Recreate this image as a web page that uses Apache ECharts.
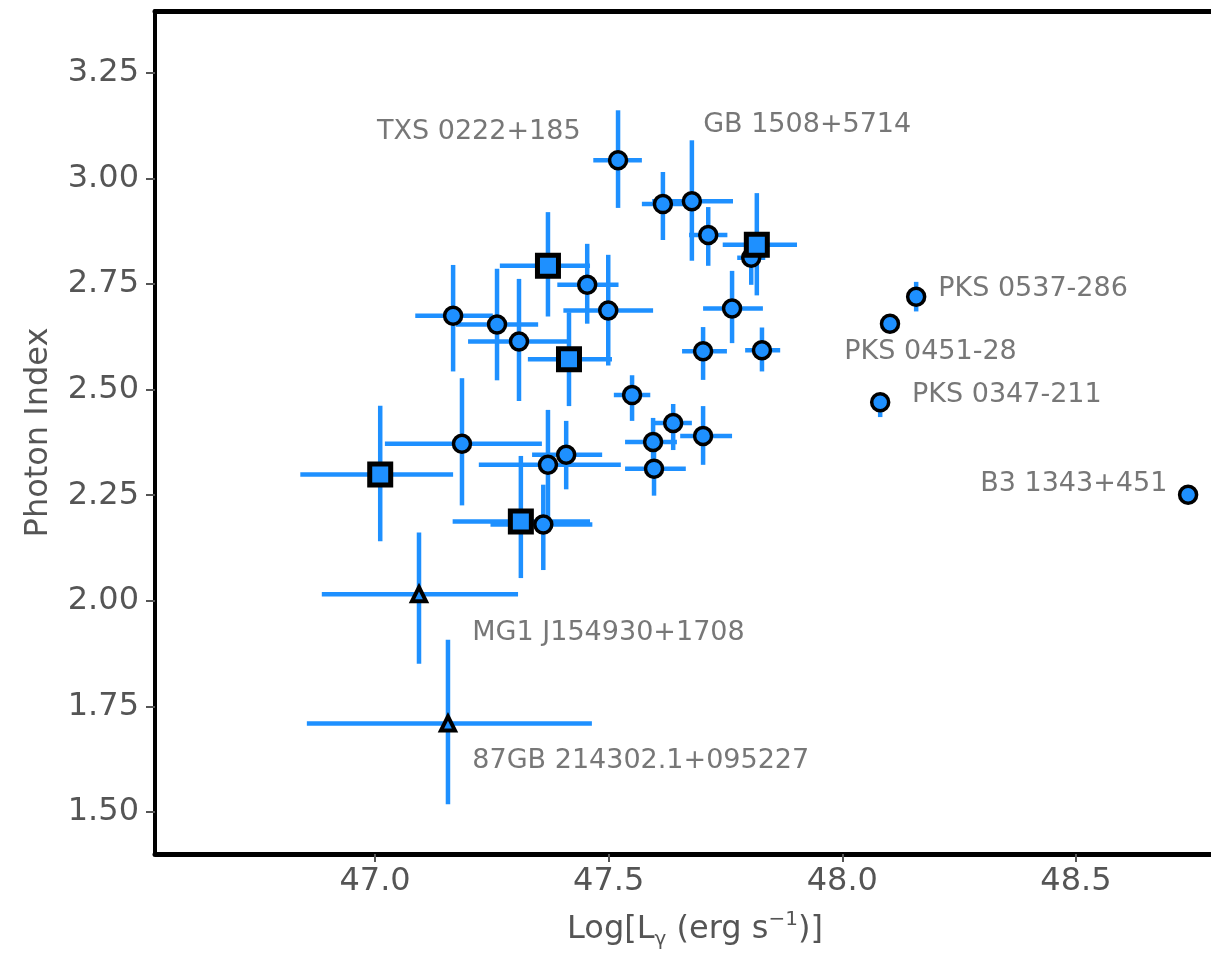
<!DOCTYPE html>
<html><head><meta charset="utf-8">
<script src="https://cdn.jsdelivr.net/npm/echarts@6/dist/echarts.min.js"></script>
<style>html,body{margin:0;padding:0;background:#fff}#c{width:1211px;height:955px}</style>
</head><body><div id="c"></div>
<script>
// Tick labels
const xTicks = [47.0, 47.5, 48.0, 48.5];
const yTicks = [1.50, 1.75, 2.00, 2.25, 2.50, 2.75, 3.00, 3.25];

// Rows: [log L_gamma, photon index, xErrMinus, xErrPlus, yErrMinus, yErrPlus]
const circles = [
  [47.520, 3.043, 0.053, 0.051, 0.113, 0.118],
  [47.616, 2.939, 0.045, 0.045, 0.085, 0.076],
  [47.678, 2.946, 0.085, 0.088, 0.141, 0.144],
  [47.713, 2.866, 0.041, 0.041, 0.073, 0.066],
  [47.805, 2.812, 0.030, 0.030, 0.064, 0.060],
  [47.764, 2.692, 0.062, 0.066, 0.082, 0.089],
  [47.702, 2.591, 0.045, 0.051, 0.068, 0.057],
  [47.828, 2.593, 0.036, 0.039, 0.050, 0.054],
  [47.454, 2.748, 0.064, 0.067, 0.092, 0.097],
  [47.499, 2.687, 0.096, 0.096, 0.130, 0.132],
  [47.167, 2.675, 0.081, 0.085, 0.132, 0.120],
  [47.261, 2.654, 0.088, 0.088, 0.132, 0.132],
  [47.308, 2.614, 0.109, 0.109, 0.141, 0.148],
  [47.550, 2.487, 0.039, 0.039, 0.061, 0.047],
  [47.638, 2.421, 0.040, 0.040, 0.064, 0.045],
  [47.702, 2.390, 0.049, 0.062, 0.068, 0.071],
  [47.595, 2.376, 0.060, 0.051, 0.050, 0.057],
  [47.597, 2.313, 0.062, 0.068, 0.064, 0.045],
  [47.186, 2.372, 0.165, 0.171, 0.146, 0.155],
  [47.370, 2.322, 0.148, 0.156, 0.125, 0.130],
  [47.409, 2.346, 0.073, 0.077, 0.082, 0.080],
  [47.360, 2.181, 0.113, 0.105, 0.108, 0.094],
  [48.158, 2.720, 0.000, 0.000, 0.035, 0.035],
  [48.102, 2.656, 0.000, 0.000, 0.000, 0.000],
  [48.081, 2.470, 0.000, 0.000, 0.035, 0.020],
  [48.740, 2.251, 0.000, 0.000, 0.000, 0.000]
];
const squares = [
  [47.817, 2.843, 0.073, 0.086, 0.120, 0.122],
  [47.370, 2.793, 0.103, 0.090, 0.120, 0.127],
  [47.415, 2.572, 0.088, 0.092, 0.111, 0.111],
  [47.011, 2.299, 0.171, 0.156, 0.158, 0.163],
  [47.312, 2.188, 0.146, 0.148, 0.134, 0.155]
];
const triangles = [
  [47.094, 2.016, 0.208, 0.212, 0.165, 0.146],
  [47.156, 1.710, 0.302, 0.308, 0.191, 0.198]
];

// Source annotations (text, left edge x, middle y in data units)
const labelNames = ['TXS 0222+185', 'GB 1508+5714', 'PKS 0537-286', 'PKS 0451-28',
  'PKS 0347-211', 'B3 1343+451', 'MG1 J154930+1708', '87GB 214302.1+095227'];
const labelX = [47.004, 47.702, 48.205, 48.004, 48.149, 48.295, 47.208, 47.208];
const labelY = [3.110, 3.127, 2.737, 2.590, 2.488, 2.277, 1.925, 1.621];

const BLUE = '#1E90FF';
const FONT = 'DejaVu Sans';
const TXT = '#555';

function errRender(params, api) {
  const x = api.value(0), y = api.value(1);
  const style = { stroke: BLUE, lineWidth: 4.5 };
  const ch = [];
  if (api.value(2) + api.value(3) > 0) {
    const a = api.coord([x - api.value(2), y]), b = api.coord([x + api.value(3), y]);
    ch.push({ type: 'line', shape: { x1: a[0], y1: a[1], x2: b[0], y2: b[1] }, style });
  }
  if (api.value(4) + api.value(5) > 0) {
    const a = api.coord([x, y - api.value(4)]), b = api.coord([x, y + api.value(5)]);
    ch.push({ type: 'line', shape: { x1: a[0], y1: a[1], x2: b[0], y2: b[1] }, style });
  }
  return { type: 'group', children: ch };
}
function errSeries(rows) {
  return { type: 'custom', renderItem: errRender, data: rows, encode: { x: 0, y: 1 }, silent: true, clip: false };
}
function markSeries(rows, symbol, size, bw) {
  return {
    type: 'scatter', symbol: symbol, symbolSize: size, silent: true,
    data: rows.map(r => [r[0], r[1]]),
    itemStyle: { color: BLUE, borderColor: '#000', borderWidth: bw, opacity: 1 }
  };
}

const chart = echarts.init(document.getElementById('c'), null, { renderer: 'canvas' });
chart.setOption({
  animation: false,
  backgroundColor: '#fff',
  grid: { left: 155, right: 0, top: 11, bottom: 97, containLabel: false },
  xAxis: [{
    type: 'value', position: 'bottom', min: 46.529, max: 48.789,
    axisLine: { show: true, onZero: false, lineStyle: { color: '#000', width: 5 } },
    axisTick: { show: true, customValues: xTicks, length: 8, lineStyle: { color: '#555', width: 2 } },
    axisLabel: { customValues: xTicks, formatter: v => v.toFixed(1), fontSize: 32, color: TXT, fontFamily: FONT, margin: 12 },
    splitLine: { show: false },
    name: 'Log[L{sub|γ} (erg s{sup|−1})]',
    nameLocation: 'middle', nameGap: 56,
    nameTextStyle: {
      fontSize: 32, color: TXT, fontFamily: FONT, padding: [0, 0, 0, 24], lineHeight: 40,
      rich: {
        sub: { fontSize: 20, color: TXT, fontFamily: FONT, verticalAlign: 'bottom', lineHeight: 40 },
        sup: { fontSize: 20, color: TXT, fontFamily: FONT, verticalAlign: 'top', lineHeight: 40 }
      }
    }
  }, {
    type: 'value', position: 'top', min: 46.529, max: 48.789,
    axisLine: { show: true, onZero: false, lineStyle: { color: '#000', width: 5 } },
    axisTick: { show: false }, axisLabel: { show: false }, splitLine: { show: false }
  }],
  yAxis: [{
    type: 'value', position: 'left', min: 1.401, max: 3.396,
    axisLine: { show: true, onZero: false, lineStyle: { color: '#000', width: 4 } },
    axisTick: { show: true, customValues: yTicks, length: 9, lineStyle: { color: '#555', width: 2 } },
    axisLabel: { customValues: yTicks, formatter: v => v.toFixed(2), fontSize: 32, color: TXT, fontFamily: FONT, margin: 16 },
    splitLine: { show: false },
    name: 'Photon Index', nameLocation: 'middle', nameRotate: 90, nameGap: 100,
    nameTextStyle: { fontSize: 32, color: TXT, fontFamily: FONT }
  }],
  series: [
    errSeries(circles),
    markSeries(circles, 'circle', 17, 3.5),
    errSeries(squares),
    markSeries(squares, 'rect', 21, 5),
    errSeries(triangles),
    markSeries(triangles, 'triangle', 14, 4),
    {
      type: 'scatter', symbolSize: 0.1, silent: true,
      itemStyle: { color: 'rgba(0,0,0,0)' },
      data: labelNames.map((n, i) => ({ name: n, value: [labelX[i], labelY[i]] })),
      label: {
        show: true, position: 'right', distance: 0, formatter: p => p.name,
        fontSize: 27, color: TXT, fontFamily: FONT
      }
    }
  ]
});
</script>
</body></html>
